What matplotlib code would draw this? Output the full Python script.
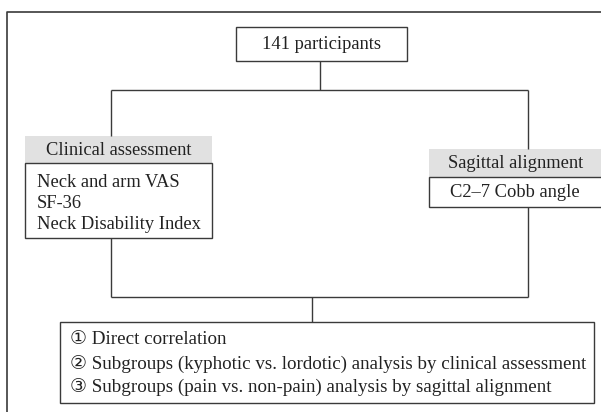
import matplotlib
matplotlib.use("Agg")
import matplotlib.pyplot as plt
from matplotlib.patches import Rectangle

# ---- content ----
top_label = "141 participants"
left_header = "Clinical assessment"
left_items = ["Neck and arm VAS", "SF-36", "Neck Disability Index"]
right_header = "Sagittal alignment"
right_items = ["C2\u20137 Cobb angle"]
bottom_items = [
    "\u2460 Direct correlation",
    "\u2461 Subgroups (kyphotic vs. lordotic) analysis by clinical assessment",
    "\u2462 Subgroups (pain vs. non-pain) analysis by sagittal alignment",
]

W, H = 601, 412
fig = plt.figure(figsize=(W / 100, H / 100), dpi=100)
ax = fig.add_axes([0, 0, 1, 1])
ax.set_xlim(0, W)
ax.set_ylim(H, 0)
ax.axis("off")

LC = "#3a3a3a"
GRAY = "#e1e1e1"
FONT = ["Liberation Serif", "DejaVu Serif", "DejaVu Sans"]
FS = 13.3
lw = 1.0

def line(xs, ys, w=lw):
    ax.plot(xs, ys, color=LC, lw=w, solid_capstyle="butt")

def box(x0, y0, x1, y1, fill="white", edge=True):
    ax.add_patch(Rectangle((x0, y0), x1 - x0, y1 - y0, facecolor=fill,
                           edgecolor=LC if edge else "none", lw=lw))

# outer frame
line([7, 7, W + 5], [H + 5, 12, 12], w=1.2)

# top box
box(236, 27, 407, 61)
ax.text(321.5, 44.5, top_label, ha="center", va="center", fontsize=FS, family=FONT, color="#222")

# connectors
line([320, 320], [61, 90])
line([111, 528], [90, 90])
line([111, 111], [90, 136])
line([528, 528], [90, 149])
line([111, 111], [238, 297])
line([528, 528], [207, 297])
line([111, 528], [297, 297])
line([312, 312], [297, 322])

# left block
box(25, 136, 212, 163, fill=GRAY, edge=False)
ax.text(118.5, 150.5, left_header, ha="center", va="center", fontsize=FS, family=FONT, color="#222")
box(25, 163, 212, 238)
for i, t in enumerate(left_items):
    ax.text(37, 182 + i * 21, t, ha="left", va="center", fontsize=FS, family=FONT, color="#222")

# right block
box(429, 149, W + 5, 177, fill=GRAY, edge=False)
ax.text(516, 163, right_header, ha="center", va="center", fontsize=FS, family=FONT, color="#222")
box(429, 177, W + 5, 207)
for i, t in enumerate(right_items):
    ax.text(515, 192 + i * 21, t, ha="center", va="center", fontsize=FS, family=FONT, color="#222")

# bottom block
box(60, 322, 594, 403)
for i, t in enumerate(bottom_items):
    ax.text(70, 340 + i * 23.5, t, ha="left", va="center", fontsize=FS + 0.4, family=FONT, color="#222")

fig.savefig("out.png", dpi=100, facecolor="white")
